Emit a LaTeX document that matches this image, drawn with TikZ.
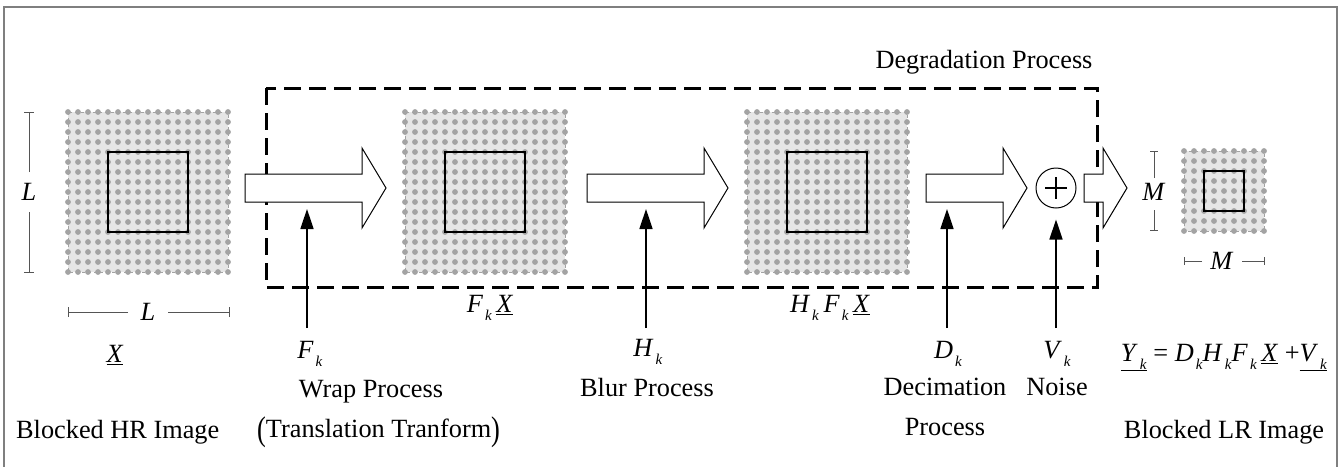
\documentclass[tikz,border=0pt]{standalone}
\usepackage{fontspec}
\setmainfont{Liberation Serif}
\usetikzlibrary{arrows.meta}
\definecolor{dotgray}{HTML}{A3A3A3}
\definecolor{padgray}{HTML}{E6E6E6}
\definecolor{framegray}{HTML}{7F7F7F}
\definecolor{dimgray}{HTML}{555555}
\newcommand\subk{\raisebox{-0.28em}{\fontsize{15}{15}\selectfont\kern2pt\textit{k}}}
\newcommand\sym[2]{\textit{#1}\subk}
\newcommand\uvec[1]{\underline{\textit{#1}}}
% dotted image block: x, y, intervals, inner offset, inner size
\newcommand\dotblock[5]{%
  \fill[padgray] (#1,#2) rectangle ++(#3*10,#3*10);
  \draw[dotgray,dashed,line width=0.8] (#1,#2) rectangle ++(#3*10,#3*10);
  \foreach \i in {0,...,#3} \foreach \j in {0,...,#3} \fill[dotgray] (#1+\i*10,#2+\j*10) circle (2.9pt);
  \draw[line width=1.5] (#1+#4,#2+#4) rectangle ++(#5,#5);}
% block arrow: left end, tip
\newcommand\bigarrow[2]{%
  \draw[line width=1,fill=white] (#1,174) -- (#2-24,174) -- (#2-24,148) -- (#2,188) -- (#2-24,228) -- (#2-24,202) -- (#1,202) -- cycle;}

\begin{document}
\begin{tikzpicture}[x=1pt,y=-1pt,
    lbl/.style={font=\fontsize{26.3}{30}\selectfont,inner sep=0pt},
    dimline/.style={dimgray,line width=1},
    feed/.style={line width=1.6,-{Triangle[width=13pt,length=20pt]}}]
			%%%%% FRAME %%%%%
			\useasboundingbox (0,0) rectangle (1343,466);
			\draw[framegray,line width=1.5] (4,7) rectangle (1337,472);
			
			%%%%% DEGRADATION BOX %%%%%
			\draw[line width=3,dash pattern=on 17pt off 8pt] (266,88) rectangle (1097,287);
			\node[lbl] (degr) at (984,62) {Degradation Process};
			
			%%%%% IMAGES %%%%%
			\dotblock{68}{112}{16}{40}{80}
			\dotblock{405}{112}{16}{40}{80}
			\dotblock{747}{112}{16}{40}{80}
			\dotblock{1184}{151}{8}{20}{40}
			
			%%%%% ARROWS %%%%%
			\bigarrow{245}{386}
			\bigarrow{587}{728}
			\bigarrow{926}{1027}
			\bigarrow{1084}{1127}
			
			\node[circle,draw,line width=1,minimum size=40pt,inner sep=0pt] (sum) at (1056,188) {};
			\draw[line width=1.2] (1045,188) -- (1067,188) (1056,177) -- (1056,199);
			
			%%%%% DIMENSIONS %%%%%
			\node[lbl] (Lv) at (29,192) {\textit{L}};
			\draw[dimline] (29,172) -- (29,112) (24,112) -- (34,112);
			\draw[dimline] (29,212) -- (29,272) (24,272) -- (34,272);
			\node[lbl] (Lh) at (148,312) {\textit{L}};
			\draw[dimline] (128,312) -- (68,312) (68,307) -- (68,317);
			\draw[dimline] (168,312) -- (229,312) (229,307) -- (229,317);
			
			\node[lbl] (Mv) at (1154,192) {\textit{M}};
			\draw[dimline] (1154,178) -- (1154,151) (1150,151) -- (1158,151);
			\draw[dimline] (1154,210) -- (1154,230) (1150,230) -- (1158,230);
			\node[lbl] (Mh) at (1222,261) {\textit{M}};
			\draw[dimline] (1202,261) -- (1184,261) (1184,257) -- (1184,265);
			\draw[dimline] (1242,261) -- (1264,261) (1264,257) -- (1264,265);
			
			%%%%% INPUTS %%%%%
			\coordinate (Fbot) at (307,328); \coordinate (Ftip) at (307,209);
			\coordinate (Hbot) at (646,328); \coordinate (Htip) at (646,209);
			\coordinate (Dbot) at (947,328); \coordinate (Dtip) at (947,209);
			\coordinate (Vbot) at (1056,328);
			\draw[feed] (Fbot) -- (Ftip);
			\draw[feed] (Hbot) -- (Htip);
			\draw[feed] (Dbot) -- (Dtip);
			\draw[feed,shorten >=11pt] (Vbot) -- (sum.south);
			
			%%%%% LABELS %%%%%
			\node[lbl] (xhr) at (115,355) {\uvec{X}};
			\node[lbl] (fx) at (490,308) {\sym{F}{k}\,\uvec{X}};
			\node[lbl] (hfx) at (830,308) {\sym{H}{k}\,\sym{F}{k}\,\uvec{X}};
			\node[lbl] (fk) at (310,354) {\sym{F}{k}};
			\node[lbl] (hk) at (648,352) {\sym{H}{k}};
			\node[lbl] (dk) at (948,354) {\sym{D}{k}};
			\node[lbl] (vk) at (1057,354) {\sym{V}{k}};
			\node[lbl] (wrap) at (371,392) {Wrap Process};
			\node[lbl,anchor=west] (trans) at (257,432) {\raisebox{-0.12em}{\scalebox{1}[1.3]{(}}Translation Tranform\raisebox{-0.12em}{\scalebox{1}[1.3]{)}}};
			\node[lbl] (blur) at (647,387) {Blur Process};
			\node[lbl] (deci) at (945,387) {Decimation};
			\node[lbl] (deci2) at (945,427) {Process};
			\node[lbl] (noise) at (1057,387) {Noise};
			\node[lbl] (eq) at (1224,358) {\underline{\textit{Y}\subk} = \sym{D}{k}\sym{H}{k}\sym{F}{k}\,\uvec{X} +\underline{\textit{V}\subk}};
			\node[lbl,anchor=west] (hr) at (16,432) {Blocked HR Image};
			\node[lbl] (lr) at (1224,432) {Blocked LR Image};
		\end{tikzpicture}
\end{document}
